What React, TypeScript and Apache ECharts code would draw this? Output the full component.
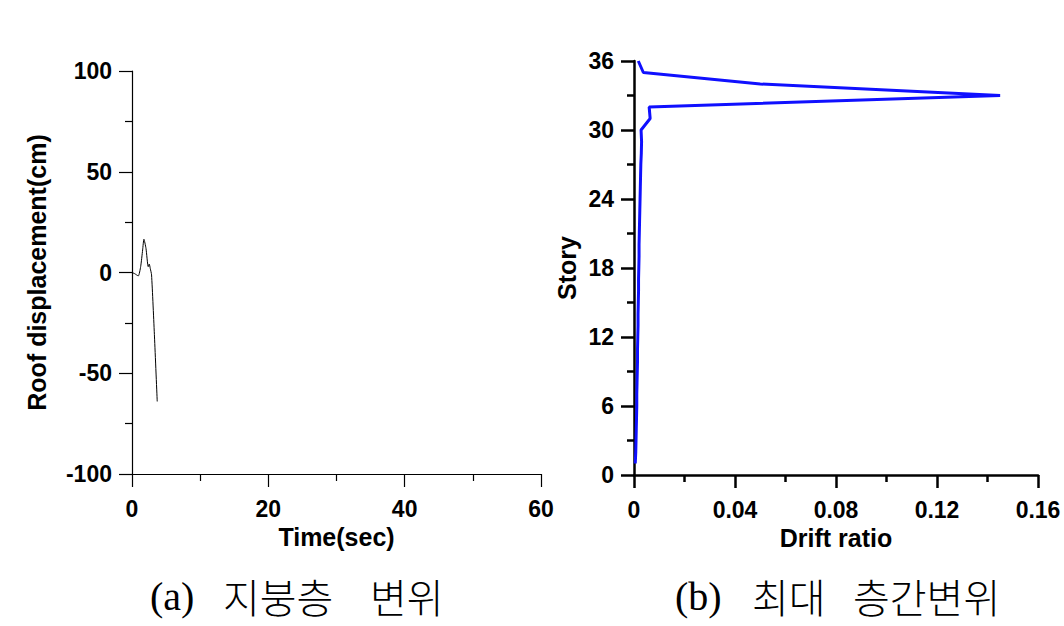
import React, { useEffect, useRef } from "react";
import * as echarts from "echarts";

// (a) roof displacement time history
const timeSec = [0, 0.4, 0.92, 1.27, 1.56, 1.75, 2.05, 2.38, 2.53, 2.68, 2.87, 3.3, 3.7];
const roofDisp = [0, -0.6, -1.7, 2.9, 11.2, 16.5, 12, 2.9, 4.2, 2, -1.2, -32, -64];

// (b) maximum interstory drift
const stories = [
  1, 2, 3, 4, 5, 6, 7, 8, 9, 10, 11, 12, 13, 14, 15, 16, 17, 18,
  19, 20, 21, 22, 23, 24, 25, 26, 27, 28, 29, 30, 31, 32, 33, 34, 35, 36,
];
const driftRatio = [
  0.0005, 0.0007, 0.0008, 0.0009, 0.001, 0.0011, 0.0011, 0.0012, 0.0013, 0.0014,
  0.0014, 0.0015, 0.0016, 0.0016, 0.0017, 0.0018, 0.0018, 0.0019, 0.002, 0.002,
  0.0021, 0.0022, 0.0023, 0.0024, 0.0025, 0.0026, 0.0027, 0.0029, 0.003, 0.0028,
  0.0064, 0.006, 0.145, 0.05, 0.0037, 0.0017,
];

const timeTicks = { min: 0, max: 60, interval: 20 };
const dispTicks = { min: -100, max: 100, interval: 50 };
const driftTicks = { min: 0, max: 0.16, interval: 0.04 };
const storyTicks = { min: 0, max: 36, interval: 6 };

const captionA = ["(a)", "지붕층", "변위"];
const captionB = ["(b)", "최대", "층간변위"];

const SANS = "'Liberation Sans', Arial, sans-serif";
const SERIF = "'Liberation Serif', 'Times New Roman', serif";
const KR = "'Noto Sans CJK KR', sans-serif";

function axisStyle(width: number) {
  return {
    axisLine: { show: true, onZero: false, lineStyle: { color: "#000", width } },
    axisTick: { show: true, inside: false, length: 13, lineStyle: { color: "#000", width } },
    minorTick: { show: true, splitNumber: 2, length: 7, lineStyle: { color: "#000", width } },
    splitLine: { show: false },
    minorSplitLine: { show: false },
  };
}

const labelStyle = {
  color: "#000",
  fontFamily: SANS,
  fontWeight: "bold" as const,
  fontSize: 23,
};

const nameStyle = {
  color: "#000",
  fontFamily: SANS,
  fontWeight: "bold" as const,
  fontSize: 25,
};

export default function App() {
  const ref = useRef<HTMLDivElement>(null);
  useEffect(() => {
    document.body.style.margin = "0";
    if (!ref.current) return;
    const chart = echarts.init(ref.current, null, { renderer: "svg" });
    const capText = (x: number, text: string, font: string) => ({
      type: "text",
      x,
      y: 596,
      style: {
        text,
        fill: "#000",
        font: `300 40px ${font}`,
        textVerticalAlign: "middle",
        textAlign: "left",
      },
    });
    chart.setOption({
      animation: false,
      backgroundColor: "#fff",
      grid: [
        { left: 132, top: 71, width: 409, height: 403, containLabel: false, outerBoundsMode: "none" },
        { left: 634, top: 61, width: 404, height: 414, containLabel: false, outerBoundsMode: "none" },
      ],
      xAxis: [
        {
          gridIndex: 0,
          type: "value",
          ...timeTicks,
          name: "Time(sec)",
          nameLocation: "middle",
          nameGap: 50,
          nameTextStyle: nameStyle,
          axisLabel: { ...labelStyle, margin: 23 },
          ...axisStyle(1.2),
        },
        {
          gridIndex: 1,
          type: "value",
          ...driftTicks,
          name: "Drift ratio",
          nameLocation: "middle",
          nameGap: 50,
          nameTextStyle: nameStyle,
          axisLabel: {
            ...labelStyle,
            margin: 23,
            formatter: (v: number) => String(+v.toFixed(2)),
          },
          ...axisStyle(2.5),
        },
      ],
      yAxis: [
        {
          gridIndex: 0,
          type: "value",
          ...dispTicks,
          name: "Roof displacement(cm)",
          nameLocation: "middle",
          nameGap: 83,
          nameRotate: 90,
          nameTextStyle: nameStyle,
          axisLabel: { ...labelStyle, margin: 20 },
          ...axisStyle(1.2),
        },
        {
          gridIndex: 1,
          type: "value",
          ...storyTicks,
          name: "Story",
          nameLocation: "middle",
          nameGap: 55,
          nameRotate: 90,
          nameTextStyle: nameStyle,
          axisLabel: { ...labelStyle, margin: 20 },
          ...axisStyle(2.5),
        },
      ],
      series: [
        {
          type: "line",
          xAxisIndex: 0,
          yAxisIndex: 0,
          data: timeSec.map((t, i) => [t, roofDisp[i]]),
          showSymbol: false,
          smooth: 0.2,
          lineStyle: { color: "#000", width: 1 },
        },
        {
          type: "line",
          xAxisIndex: 1,
          yAxisIndex: 1,
          data: stories.map((s, i) => [driftRatio[i], s]),
          showSymbol: false,
          lineStyle: { color: "#1010ff", width: 3 },
        },
      ],
      graphic: [
        capText(150, captionA[0], SERIF),
        capText(223, captionA[1], KR),
        capText(370, captionA[2], KR),
        capText(675, captionB[0], SERIF),
        capText(752, captionB[1], KR),
        capText(853, captionB[2], KR),
      ],
    });
    return () => chart.dispose();
  }, []);
  return <div ref={ref} style={{ width: 1064, height: 626 }} />;
}
